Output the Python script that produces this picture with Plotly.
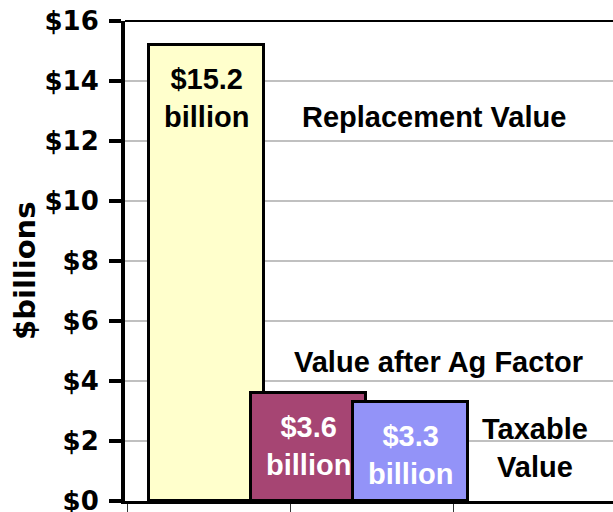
import plotly.graph_objects as go

# ---- data ----
categories = ["Replacement Value", "Value after Ag Factor", "Taxable Value"]
values = [15.2, 3.6, 3.3]
bar_labels = ["$15.2<br>billion", "$3.6<br>billion", "$3.3<br>billion"]
category_labels = ["Replacement Value", "Value after Ag Factor", "Taxable<br>Value"]
label_colors = ["black", "white", "white"]
bar_colors = ["#ffffcc", "#a64573", "#9393f8"]
y_tickvals = [0, 2, 4, 6, 8, 10, 12, 14, 16]
y_ticktext = ["$0", "$2", "$4", "$6", "$8", "$10", "$12", "$14", "$16"]
y_title = "$billions"

# ---- layout constants ----
W, H = 613, 512
ML, MT, MB, MR = 125, 21, 11, 0
PX_PER_X = 102.0
X0 = -0.8
plot_w = W - ML - MR
plot_h = H - MT - MB
x_range = [X0, X0 + plot_w / PX_PER_X]
xs = list(range(len(values)))

fig = go.Figure()
fig.add_trace(go.Bar(
    x=xs, y=values, width=1.13,
    marker=dict(color=bar_colors, line=dict(color="black", width=3)),
    hoverinfo="skip", showlegend=False,
))

label_font = dict(family="Liberation Sans", size=29, weight="bold")
for i, (v, t, c) in enumerate(zip(values, bar_labels, label_colors)):
    fig.add_annotation(x=xs[i], y=v, text=t, showarrow=False, yanchor="top",
                       yshift=-16, font=dict(color=c, **label_font))

# category name annotations
name_pos = [(2.23, 12.8), (2.27, 4.63), (3.22, 1.77)]
for (x, y), name in zip(name_pos, category_labels):
    fig.add_annotation(x=x, y=y, text=name, showarrow=False,
                       font=dict(color="black", **label_font))

# y title
fig.add_annotation(xref="paper", yref="paper", x=-(ML - 25) / plot_w, y=(501 - 271) / plot_h,
                   text=y_title, textangle=-90, showarrow=False, xanchor="center", yanchor="middle",
                   font=dict(family="DejaVu Sans", size=29, weight="bold", color="black"))

# top border
fig.add_shape(type="line", xref="paper", yref="paper", x0=0, x1=1, y0=1, y1=1,
              line=dict(color="black", width=2))

tick_step = 163 / PX_PER_X
fig.update_layout(
    width=W, height=H,
    margin=dict(l=ML, r=MR, t=MT, b=MB, pad=0),
    paper_bgcolor="white", plot_bgcolor="white",
    bargap=0,
    xaxis=dict(range=x_range, showgrid=False, zeroline=False,
               showline=True, linecolor="black", linewidth=3,
               ticks="outside", ticklen=12, tickwidth=1, tickcolor="#333333",
               tick0=X0 + 2 / PX_PER_X, dtick=tick_step, tickmode="linear",
               showticklabels=False, automargin=False),
    yaxis=dict(range=[0, 16], tickvals=y_tickvals, ticktext=y_ticktext,
               showgrid=True, gridcolor="#c0c0c0", gridwidth=2, zeroline=False,
               showline=True, linecolor="black", linewidth=4,
               ticks="outside", ticklen=12, tickwidth=4, tickcolor="black",
               ticklabelstandoff=5, ticklabeloverflow="allow",
               tickfont=dict(family="DejaVu Sans", size=26, weight="bold", color="black"),
               automargin=False),
)

fig.write_html("out.html", config={"displayModeBar": False},
               post_script="document.body.style.margin='0';document.body.style.overflow='hidden';")
